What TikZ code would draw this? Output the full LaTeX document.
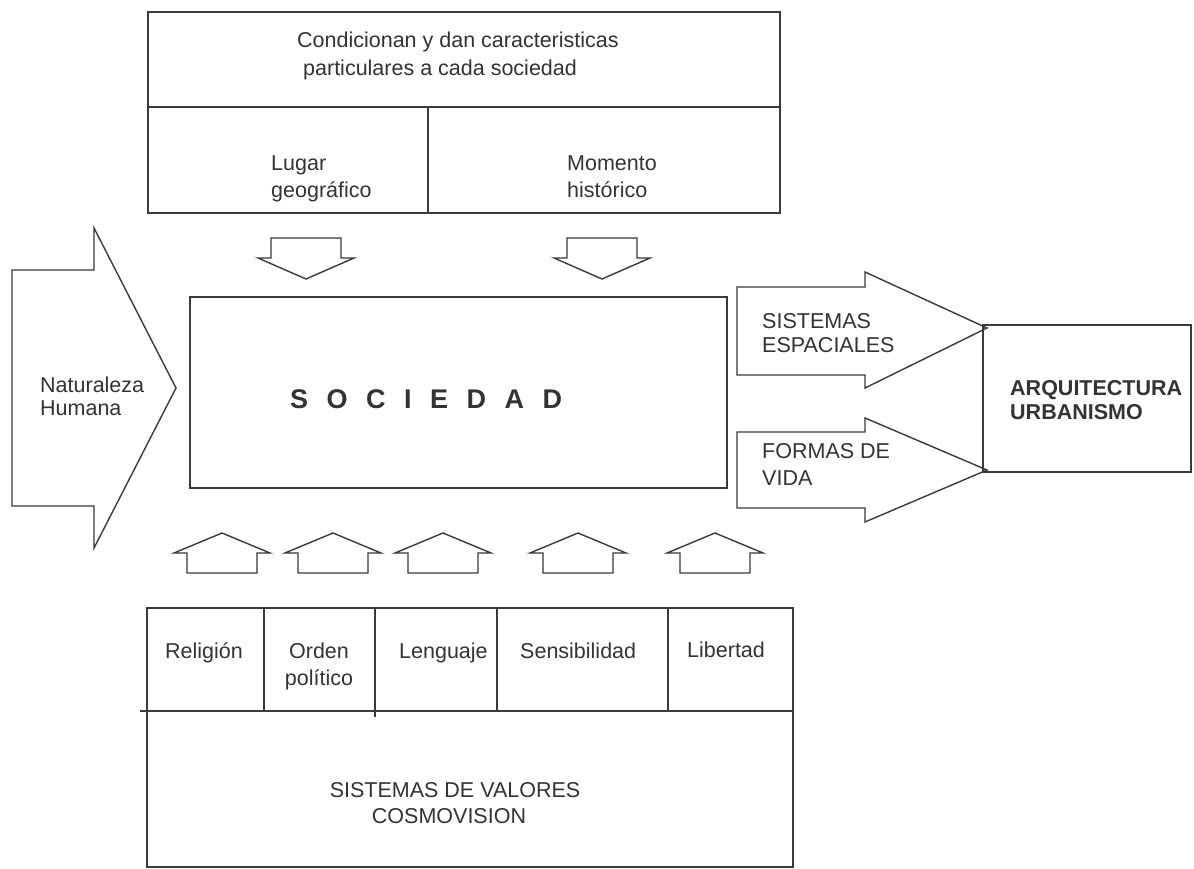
\documentclass[tikz,border=0pt]{standalone}
\usepackage{fontspec}
\setmainfont{Liberation Sans}
\definecolor{ink}{HTML}{3A3A3A}
\definecolor{txtc}{HTML}{333333}
\begin{document}
\begin{tikzpicture}[x=1pt,y=-1pt,
  line/.style={draw=ink, line width=1.4pt, line join=miter},
  lbl/.style={text=txtc, inner sep=0pt, font=\fontsize{21.5}{26}\selectfont},
  blbl/.style={text=txtc, inner sep=0pt, font=\fontsize{21.5}{26}\selectfont\bfseries}]
\useasboundingbox (0,0) rectangle (1194,869);
\fill[white] (0,0) rectangle (1194,869);

% ---- top box
\draw[line] (148,12) rectangle (780,213);
\draw[line] (148,107) -- (780,107);
\draw[line] (428,107) -- (428,213);
\node[lbl, anchor=base west] (cond1) at (297,48) {Condicionan y dan caracteristicas};
\node[lbl, anchor=base west] (cond2) at (303,76) {particulares a cada sociedad};
\node[lbl, anchor=base west] (lug1) at (271,171) {Lugar};
\node[lbl, anchor=base west] (lug2) at (271,198) {geográfico};
\node[lbl, anchor=base west] (mom1) at (567,171) {Momento};
\node[lbl, anchor=base west] (mom2) at (567,198) {histórico};

% ---- down arrows
\foreach \cx/\nm in {306/da1, 602/da2}{
  \draw[line] (\cx-35,238) -- (\cx+35,238) -- (\cx+35,258) -- (\cx+48,258)
     -- (\cx,279) -- (\cx-48,258) -- (\cx-35,258) -- cycle;
}

% ---- sociedad box
\draw[line] (190,297) rectangle (727,488);
\node[text=txtc, inner sep=0pt, anchor=base west,
      font=\fontsize{27}{30}\selectfont\bfseries] (soc) at (290,408)
  {S\hspace{18.5pt}O\hspace{18.5pt}C\hspace{18.5pt}I\hspace{18.5pt}E\hspace{18.5pt}D\hspace{18.5pt}A\hspace{18.5pt}D};

% ---- left arrow
\draw[line] (12,270) -- (94,270) -- (94,228) -- (176,388) -- (94,548)
   -- (94,506) -- (12,506) -- cycle;
\node[lbl, anchor=base west] (nat1) at (40,392) {Naturaleza};
\node[lbl, anchor=base west] (nat2) at (40,415) {Humana};

% ---- right arrows
\draw[line] (737,287) -- (865,287) -- (865,272) -- (987,328) -- (865,388)
   -- (865,375) -- (737,375) -- cycle;
\node[lbl, anchor=base west] (se1) at (762,328) {SISTEMAS};
\node[lbl, anchor=base west] (se2) at (762,352) {ESPACIALES};
\draw[line] (737,432) -- (865,432) -- (865,418) -- (987,470) -- (865,522)
   -- (865,508) -- (737,508) -- cycle;
\node[lbl, anchor=base west] (fv1) at (762,458) {FORMAS DE};
\node[lbl, anchor=base west] (fv2) at (762,485) {VIDA};

% ---- arquitectura box
\draw[line] (983,325) rectangle (1191,472);
\node[blbl, anchor=base west] (arq1) at (1010,395) {ARQUITECTURA};
\node[blbl, anchor=base west] (arq2) at (1010,419) {URBANISMO};

% ---- up (house) arrows
\foreach \cx in {222,333,443,578,715}{
  \draw[line] (\cx,533) -- (\cx+48,553) -- (\cx+35,553) -- (\cx+35,573)
     -- (\cx-35,573) -- (\cx-35,553) -- (\cx-48,553) -- cycle;
}

% ---- bottom box
\draw[line] (147,608) rectangle (793,867);
\draw[line] (140,711) -- (793,711);
\draw[line] (264,608) -- (264,711);
\draw[line] (375,608) -- (375,717);
\draw[line] (497,608) -- (497,711);
\draw[line] (668,608) -- (668,711);
\node[lbl, anchor=base west] (rel) at (165,658) {Religión};
\node[lbl, anchor=base] (ord1) at (319,658) {Orden};
\node[lbl, anchor=base] (ord2) at (319,685) {político};
\node[lbl, anchor=base west] (len) at (399,658) {Lenguaje};
\node[lbl, anchor=base west] (sen) at (520,658) {Sensibilidad};
\node[lbl, anchor=base west] (lib) at (687,657) {Libertad};
\node[lbl, anchor=base] (sv1) at (455,797) {SISTEMAS DE VALORES};
\node[lbl, anchor=base] (sv2) at (449,823) {COSMOVISION};
\end{tikzpicture}
\end{document}
